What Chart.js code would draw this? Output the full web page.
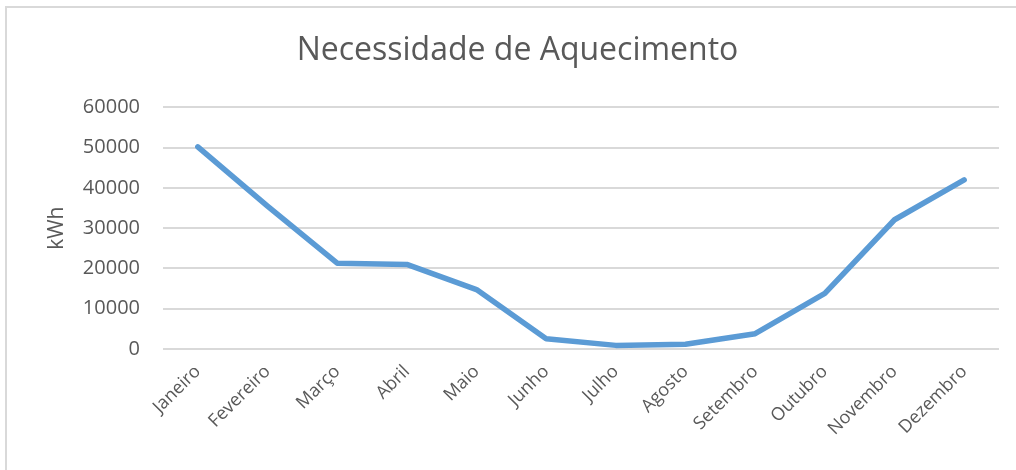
<!DOCTYPE html>
<html>
<head>
<meta charset="utf-8">
<script src="https://cdn.jsdelivr.net/npm/chart.js@4.4.1/dist/chart.umd.min.js"></script>
<style>
html,body{margin:0;padding:0;background:#fff;}
#wrap{position:absolute;left:0;top:0;width:1016px;height:470px;}
</style>
</head>
<body>
<div id="wrap"><canvas id="c" width="1016" height="470"></canvas></div>
<script>
const titleText = "Necessidade de Aquecimento";
const yAxisTitle = "kWh";
const months = ["Janeiro","Fevereiro","Março","Abril","Maio","Junho","Julho","Agosto","Setembro","Outubro","Novembro","Dezembro"];
const heatingKWh = [50200, 35500, 21300, 21000, 14750, 2550, 900, 1200, 3800, 13800, 32100, 42000];
const yTicks = [0, 10000, 20000, 30000, 40000, 50000, 60000];

const textColor = "#595959";
const frame = {
  id: "frame",
  beforeDraw(chart) {
    const ctx = chart.ctx;
    ctx.save();
    ctx.fillStyle = "#ffffff";
    ctx.fillRect(0, 0, chart.width, chart.height);
    ctx.strokeStyle = "#d9d9d9";
    ctx.lineWidth = 2;
    ctx.beginPath();
    ctx.moveTo(6, chart.height);
    ctx.lineTo(6, 7);
    ctx.lineTo(chart.width, 7);
    ctx.stroke();
    ctx.restore();
  }
};

new Chart(document.getElementById("c"), {
  type: "line",
  data: {
    labels: months,
    datasets: [{
      data: heatingKWh,
      borderColor: "#5b9bd5",
      borderWidth: 5.5,
      pointRadius: 0,
      tension: 0,
      borderCapStyle: "round",
      borderJoinStyle: "round",
      fill: false
    }]
  },
  options: {
    responsive: false,
    animation: false,
    devicePixelRatio: 1,
    layout: { padding: { left: 36, right: 17, top: 0, bottom: 0 } },
    plugins: {
      legend: { display: false },
      tooltip: { enabled: false },
      title: {
        display: true,
        text: titleText,
        color: textColor,
        font: { family: "'Open Sans'", size: 32, weight: "normal" },
        padding: { top: 32, bottom: 37 }
      }
    },
    scales: {
      x: {
        offset: true,
        grid: { display: false, drawTicks: false },
        border: { display: false },
        ticks: {
          color: textColor,
          font: { family: "'Open Sans'", size: 18 },
          minRotation: 45,
          maxRotation: 45,
          autoSkip: false,
          padding: 12
        },
        afterFit(scale) { scale.height = 121; }
      },
      y: {
        min: 0,
        max: 60000,
        afterBuildTicks(scale) { scale.ticks = yTicks.map(v => ({ value: v })); },
        grid: { color: "#d9d9d9", lineWidth: 2, drawTicks: false },
        border: { display: false },
        ticks: {
          color: textColor,
          font: { family: "'Open Sans'", size: 20 },
          padding: 23,
          callback: v => String(v)
        },
        title: {
          display: true,
          text: yAxisTitle,
          color: textColor,
          font: { family: "'Open Sans'", size: 21 },
          padding: { top: 8, bottom: 0 }
        },
        afterFit(scale) { scale.width = 127; }
      }
    }
  },
  plugins: [frame]
});
</script>
</body>
</html>
